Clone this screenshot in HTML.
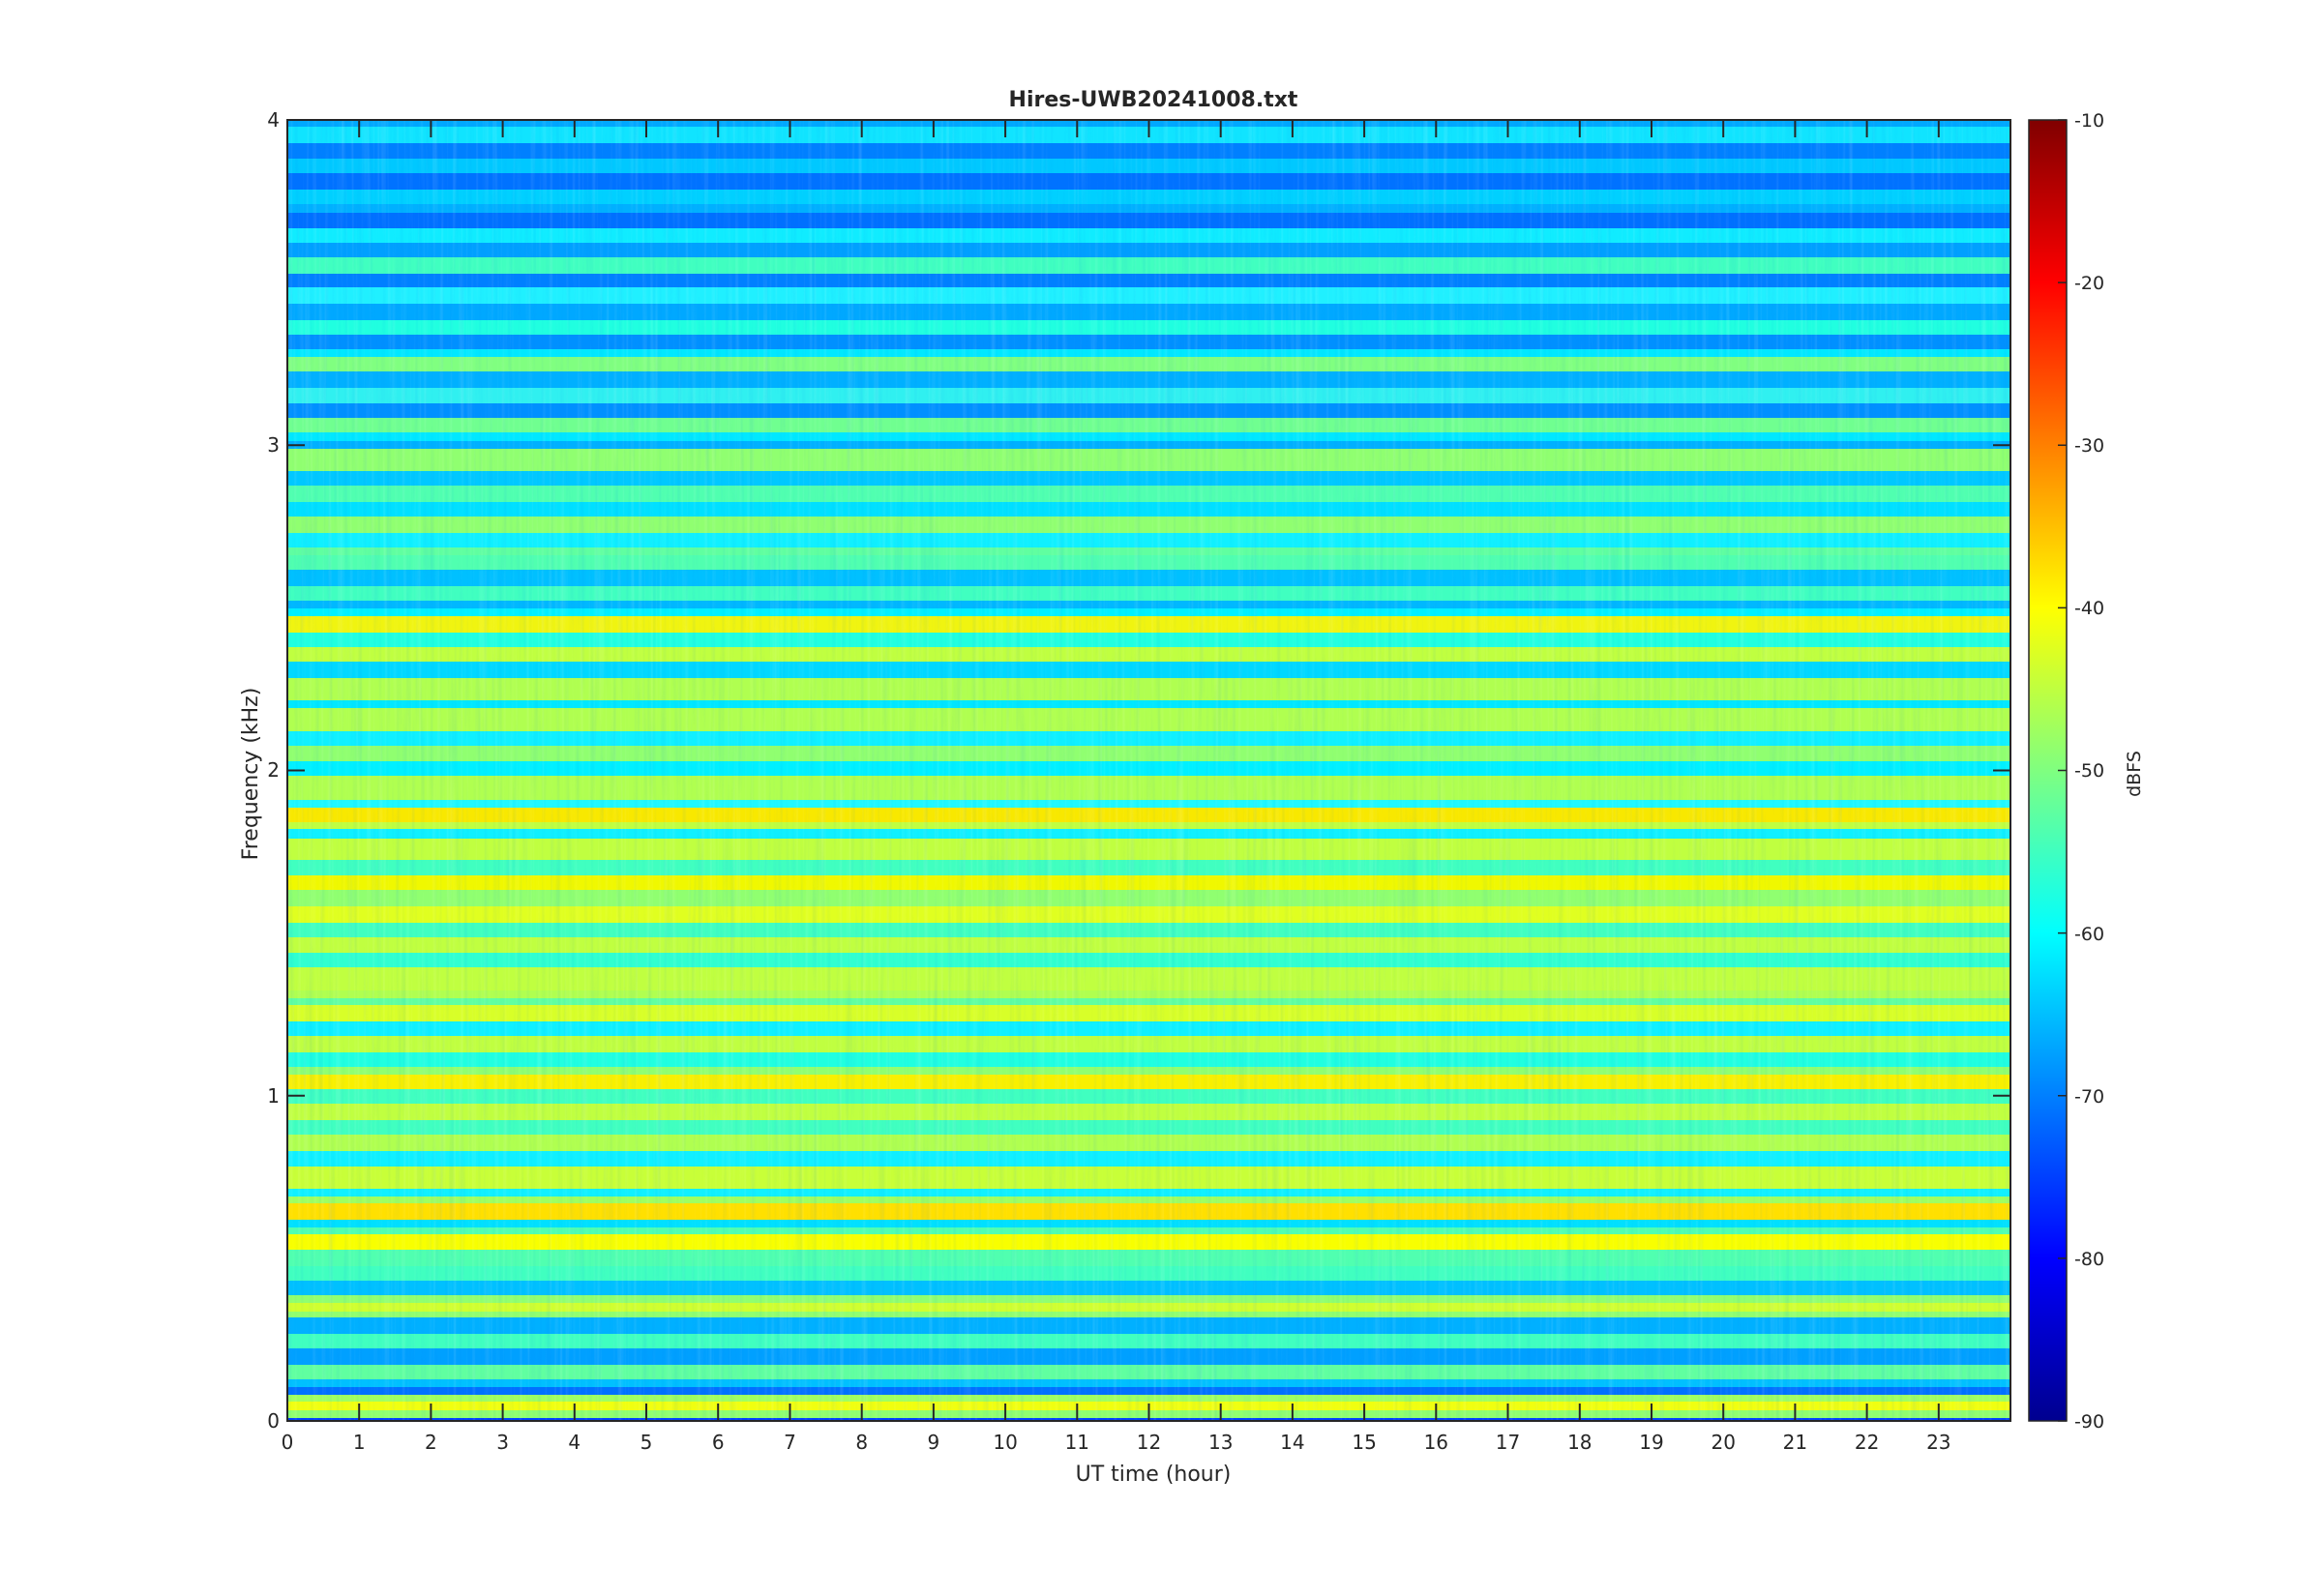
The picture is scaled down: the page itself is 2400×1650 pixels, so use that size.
<!DOCTYPE html>
<html><head><meta charset="utf-8"><style>
html,body{margin:0;padding:0;background:#fff;}
svg{display:block;}
text{font-family:"DejaVu Sans","Liberation Sans",sans-serif;fill:#262626;}
</style></head><body>
<svg width="2400" height="1650" viewBox="0 0 2400 1650" xmlns="http://www.w3.org/2000/svg">
<defs>
<linearGradient id="jet" x1="0" y1="1" x2="0" y2="0">
<stop offset="0" stop-color="#00008f"/><stop offset="0.125" stop-color="#0000ff"/>
<stop offset="0.375" stop-color="#00ffff"/><stop offset="0.625" stop-color="#ffff00"/>
<stop offset="0.875" stop-color="#ff0000"/><stop offset="1" stop-color="#800000"/>
</linearGradient>
<filter id="streak" x="0" y="0" width="100%" height="100%">
<feTurbulence type="fractalNoise" baseFrequency="0.25 0.004" numOctaves="2" seed="3"/>
<feColorMatrix type="matrix" values="0 0 0 0 1  0 0 0 0 1  0 0 0 0 1  1.6 0 0 0 -0.8"/>
</filter>
<filter id="streak2" x="0" y="0" width="100%" height="100%">
<feTurbulence type="fractalNoise" baseFrequency="0.2 0.006" numOctaves="2" seed="9"/>
<feColorMatrix type="matrix" values="0 0 0 0 0  0 0 0 0 0.2  0 0 0 0 0.9  1.6 0 0 0 -0.8"/>
</filter>
<clipPath id="pc"><rect x="297" y="124" width="1781" height="1345"/></clipPath>
</defs>
<g clip-path="url(#pc)" id="bands">
<rect x="297" y="124" width="1781" height="7" fill="#00a8ff"/>
<rect x="297" y="131" width="1781" height="17" fill="#10e4ff"/>
<rect x="297" y="148" width="1781" height="16" fill="#0080ff"/>
<rect x="297" y="164" width="1781" height="15" fill="#00c8ff"/>
<rect x="297" y="179" width="1781" height="17" fill="#0072ff"/>
<rect x="297" y="196" width="1781" height="15" fill="#00d0ff"/>
<rect x="297" y="211" width="1781" height="9" fill="#00b0ff"/>
<rect x="297" y="220" width="1781" height="16" fill="#0070ff"/>
<rect x="297" y="236" width="1781" height="15" fill="#10ecff"/>
<rect x="297" y="251" width="1781" height="15" fill="#00a0ff"/>
<rect x="297" y="266" width="1781" height="17" fill="#40ffc0"/>
<rect x="297" y="283" width="1781" height="14" fill="#0080ff"/>
<rect x="297" y="297" width="1781" height="17" fill="#20f0ff"/>
<rect x="297" y="314" width="1781" height="17" fill="#00a8ff"/>
<rect x="297" y="331" width="1781" height="15" fill="#20ffe0"/>
<rect x="297" y="346" width="1781" height="15" fill="#0090ff"/>
<rect x="297" y="361" width="1781" height="9" fill="#00e8ff"/>
<rect x="297" y="369" width="1781" height="15" fill="#80ff80"/>
<rect x="297" y="384" width="1781" height="17" fill="#00b0ff"/>
<rect x="297" y="401" width="1781" height="17" fill="#30f0f0"/>
<rect x="297" y="417" width="1781" height="15" fill="#0090ff"/>
<rect x="297" y="432" width="1781" height="15" fill="#70ff90"/>
<rect x="297" y="447" width="1781" height="9" fill="#00e8ff"/>
<rect x="297" y="456" width="1781" height="8" fill="#00b0ff"/>
<rect x="297" y="464" width="1781" height="23" fill="#90ff70"/>
<rect x="297" y="487" width="1781" height="15" fill="#00c8ff"/>
<rect x="297" y="502" width="1781" height="17" fill="#50ffb0"/>
<rect x="297" y="519" width="1781" height="15" fill="#00e0ff"/>
<rect x="297" y="534" width="1781" height="17" fill="#90ff70"/>
<rect x="297" y="551" width="1781" height="15" fill="#10f0ff"/>
<rect x="297" y="566" width="1781" height="8" fill="#60ffa0"/>
<rect x="297" y="574" width="1781" height="15" fill="#50ffb0"/>
<rect x="297" y="589" width="1781" height="17" fill="#00c0ff"/>
<rect x="297" y="606" width="1781" height="15" fill="#40ffc0"/>
<rect x="297" y="621" width="1781" height="8" fill="#00b8ff"/>
<rect x="297" y="629" width="1781" height="8" fill="#00f0ff"/>
<rect x="297" y="637" width="1781" height="17" fill="#f0f410"/>
<rect x="297" y="654" width="1781" height="15" fill="#20ffe0"/>
<rect x="297" y="669" width="1781" height="15" fill="#c0ff40"/>
<rect x="297" y="684" width="1781" height="17" fill="#00d8ff"/>
<rect x="297" y="701" width="1781" height="23" fill="#b0ff50"/>
<rect x="297" y="724" width="1781" height="8" fill="#00e8ff"/>
<rect x="297" y="732" width="1781" height="24" fill="#b0ff50"/>
<rect x="297" y="756" width="1781" height="15" fill="#10f0ff"/>
<rect x="297" y="771" width="1781" height="16" fill="#90ff70"/>
<rect x="297" y="787" width="1781" height="15" fill="#00f0ff"/>
<rect x="297" y="802" width="1781" height="25" fill="#b0ff50"/>
<rect x="297" y="827" width="1781" height="8" fill="#20f8ff"/>
<rect x="297" y="835" width="1781" height="15" fill="#f8e800"/>
<rect x="297" y="850" width="1781" height="7" fill="#c0ff40"/>
<rect x="297" y="857" width="1781" height="10" fill="#10f0ff"/>
<rect x="297" y="867" width="1781" height="22" fill="#c0ff40"/>
<rect x="297" y="889" width="1781" height="16" fill="#40ffc0"/>
<rect x="297" y="905" width="1781" height="15" fill="#f0f800"/>
<rect x="297" y="920" width="1781" height="17" fill="#90ff70"/>
<rect x="297" y="937" width="1781" height="17" fill="#e0ff20"/>
<rect x="297" y="954" width="1781" height="15" fill="#40ffc0"/>
<rect x="297" y="969" width="1781" height="16" fill="#c0ff40"/>
<rect x="297" y="985" width="1781" height="15" fill="#30ffd0"/>
<rect x="297" y="1000" width="1781" height="24" fill="#c0ff40"/>
<rect x="297" y="1024" width="1781" height="8" fill="#b0ff50"/>
<rect x="297" y="1032" width="1781" height="7" fill="#60ffa0"/>
<rect x="297" y="1039" width="1781" height="17" fill="#d8ff28"/>
<rect x="297" y="1056" width="1781" height="15" fill="#10f0ff"/>
<rect x="297" y="1071" width="1781" height="17" fill="#c0ff40"/>
<rect x="297" y="1088" width="1781" height="15" fill="#20ffe0"/>
<rect x="297" y="1103" width="1781" height="8" fill="#90ff70"/>
<rect x="297" y="1111" width="1781" height="15" fill="#f8f000"/>
<rect x="297" y="1126" width="1781" height="15" fill="#40ffc0"/>
<rect x="297" y="1141" width="1781" height="17" fill="#c0ff40"/>
<rect x="297" y="1158" width="1781" height="15" fill="#40ffc0"/>
<rect x="297" y="1173" width="1781" height="17" fill="#b0ff50"/>
<rect x="297" y="1190" width="1781" height="16" fill="#10f0ff"/>
<rect x="297" y="1206" width="1781" height="23" fill="#c8ff38"/>
<rect x="297" y="1229" width="1781" height="8" fill="#10f0ff"/>
<rect x="297" y="1237" width="1781" height="7" fill="#a0ff60"/>
<rect x="297" y="1244" width="1781" height="17" fill="#ffe000"/>
<rect x="297" y="1261" width="1781" height="8" fill="#00e0ff"/>
<rect x="297" y="1269" width="1781" height="7" fill="#50ffb0"/>
<rect x="297" y="1276" width="1781" height="16" fill="#f8ff00"/>
<rect x="297" y="1292" width="1781" height="17" fill="#50ffb0"/>
<rect x="297" y="1309" width="1781" height="15" fill="#40ffc0"/>
<rect x="297" y="1324" width="1781" height="15" fill="#00c0ff"/>
<rect x="297" y="1339" width="1781" height="8" fill="#90ff70"/>
<rect x="297" y="1347" width="1781" height="9" fill="#d0ff30"/>
<rect x="297" y="1356" width="1781" height="6" fill="#90ff70"/>
<rect x="297" y="1362" width="1781" height="17" fill="#00b0ff"/>
<rect x="297" y="1379" width="1781" height="15" fill="#40ffc0"/>
<rect x="297" y="1394" width="1781" height="17" fill="#00a0ff"/>
<rect x="297" y="1411" width="1781" height="15" fill="#60ffa0"/>
<rect x="297" y="1426" width="1781" height="8" fill="#00c0ff"/>
<rect x="297" y="1434" width="1781" height="8" fill="#0070ff"/>
<rect x="297" y="1442" width="1781" height="7" fill="#a0ff60"/>
<rect x="297" y="1449" width="1781" height="9" fill="#f0ff10"/>
<rect x="297" y="1458" width="1781" height="8" fill="#90ff70"/>
<rect x="297" y="1466" width="1781" height="4" fill="#0040ff"/>
<rect x="297" y="124" width="1781" height="1345" filter="url(#streak)" opacity="0.2"/>
<rect x="297" y="124" width="1781" height="1345" filter="url(#streak2)" opacity="0.15"/>
</g>
<rect x="297" y="124" width="1781" height="1345" fill="none" stroke="#262626" stroke-width="2"/>
<g stroke="#262626" stroke-width="2">
<path d="M297,1469v-18M371.2,1469v-18M445.4,1469v-18M519.6,1469v-18M593.8,1469v-18M668,1469v-18M742.2,1469v-18M816.5,1469v-18M890.7,1469v-18M964.9,1469v-18M1039.1,1469v-18M1113.3,1469v-18M1187.5,1469v-18M1261.7,1469v-18M1335.9,1469v-18M1410.1,1469v-18M1484.3,1469v-18M1558.5,1469v-18M1632.8,1469v-18M1707,1469v-18M1781.2,1469v-18M1855.4,1469v-18M1929.6,1469v-18M2003.8,1469v-18"/>
<path d="M297,124v18M371.2,124v18M445.4,124v18M519.6,124v18M593.8,124v18M668,124v18M742.2,124v18M816.5,124v18M890.7,124v18M964.9,124v18M1039.1,124v18M1113.3,124v18M1187.5,124v18M1261.7,124v18M1335.9,124v18M1410.1,124v18M1484.3,124v18M1558.5,124v18M1632.8,124v18M1707,124v18M1781.2,124v18M1855.4,124v18M1929.6,124v18M2003.8,124v18"/>
<path d="M297,1469h18M297,1132.75h18M297,796.5h18M297,460.25h18M297,124h18M2078,1469h-18M2078,1132.75h-18M2078,796.5h-18M2078,460.25h-18M2078,124h-18"/>
</g>
<g font-size="20" text-anchor="middle">
<text x="297" y="1498">0</text><text x="371.2" y="1498">1</text><text x="445.4" y="1498">2</text><text x="519.6" y="1498">3</text><text x="593.8" y="1498">4</text><text x="668" y="1498">5</text><text x="742.2" y="1498">6</text><text x="816.5" y="1498">7</text><text x="890.7" y="1498">8</text><text x="964.9" y="1498">9</text><text x="1039.1" y="1498">10</text><text x="1113.3" y="1498">11</text><text x="1187.5" y="1498">12</text><text x="1261.7" y="1498">13</text><text x="1335.9" y="1498">14</text><text x="1410.1" y="1498">15</text><text x="1484.3" y="1498">16</text><text x="1558.5" y="1498">17</text><text x="1632.8" y="1498">18</text><text x="1707" y="1498">19</text><text x="1781.2" y="1498">20</text><text x="1855.4" y="1498">21</text><text x="1929.6" y="1498">22</text><text x="2003.8" y="1498">23</text>
</g>
<g font-size="20" text-anchor="end">
<text x="289" y="1476">0</text><text x="289" y="1140">1</text><text x="289" y="803">2</text><text x="289" y="467">3</text><text x="289" y="131">4</text>
</g>
<text x="1192" y="1531" font-size="22" text-anchor="middle">UT time (hour)</text>
<text transform="translate(266,800) rotate(-90)" font-size="22" text-anchor="middle">Frequency (kHz)</text>
<text x="1192" y="110" font-size="22" font-weight="bold" text-anchor="middle" fill="#000">Hires-UWB20241008.txt</text>
<rect x="2097" y="124" width="39" height="1345" fill="url(#jet)" stroke="#262626" stroke-width="1.5"/>
<g stroke="#262626" stroke-width="1.5">
<path d="M2136,1469h-9M2136,1300.9h-9M2136,1132.75h-9M2136,964.6h-9M2136,796.5h-9M2136,628.4h-9M2136,460.25h-9M2136,292.1h-9M2136,124h-9"/>
</g>
<g font-size="19">
<text x="2144" y="1476">-90</text><text x="2144" y="1308">-80</text><text x="2144" y="1140">-70</text><text x="2144" y="972">-60</text><text x="2144" y="803">-50</text><text x="2144" y="635">-40</text><text x="2144" y="467">-30</text><text x="2144" y="299">-20</text><text x="2144" y="131">-10</text>
</g>
<text transform="translate(2212,800) rotate(-90)" font-size="19" text-anchor="middle">dBFS</text>
</svg>
</body></html>
